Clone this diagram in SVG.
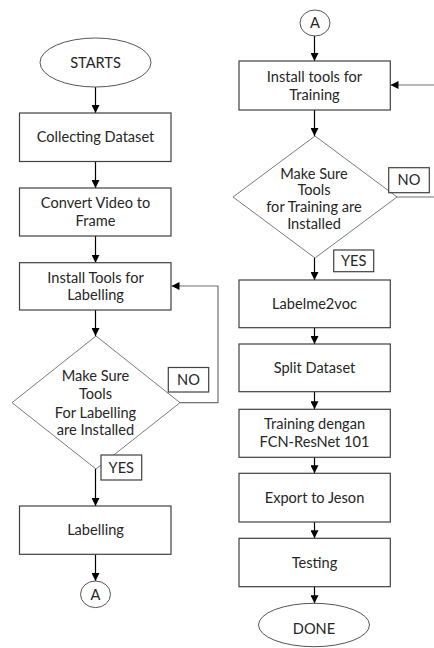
<svg xmlns="http://www.w3.org/2000/svg" width="434" height="648" viewBox="0 0 434 648">
<style>
.box{fill:#fff;stroke:#404040;stroke-width:1.2}
.dia{fill:#fff;stroke:#7a7a7a;stroke-width:1}
.lbl{fill:#fff;stroke:#404040;stroke-width:1.2}
.t{font-family:Lato,"Open Sans",sans-serif;font-size:14.6px;fill:#262626;text-anchor:middle}
.c{fill:none;stroke:#000;stroke-width:1.2}
.g{fill:none;stroke:#707070;stroke-width:1.2}
</style>
<defs>
<marker id="ah" viewBox="0 0 10 10" refX="10" refY="5" markerWidth="8" markerHeight="8" markerUnits="userSpaceOnUse" orient="auto">
<path d="M0,0 L10,5 L0,10 z" fill="#000"/>
</marker>
</defs>
<g id="connectors">
<line class="c" x1="95.5" y1="87" x2="95.5" y2="113" marker-end="url(#ah)"/>
<line class="c" x1="95.5" y1="161.5" x2="95.5" y2="188" marker-end="url(#ah)"/>
<line class="c" x1="95.5" y1="236" x2="95.5" y2="262.7" marker-end="url(#ah)"/>
<line class="c" x1="95.5" y1="310" x2="95.5" y2="336" marker-end="url(#ah)"/>
<polyline class="g" points="180,402.7 218,402.7 218,286 171.5,286" marker-end="url(#ah)"/>
<line class="c" x1="95.5" y1="469" x2="95.5" y2="506" marker-end="url(#ah)"/>
<line class="c" x1="95.5" y1="554.3" x2="95.5" y2="581" marker-end="url(#ah)"/>
<line class="c" x1="314.5" y1="36" x2="314.5" y2="61" marker-end="url(#ah)"/>
<line class="g" x1="434" y1="85" x2="390.5" y2="85" marker-end="url(#ah)"/>
<line class="c" x1="314.5" y1="110" x2="314.5" y2="136" marker-end="url(#ah)"/>
<line class="g" x1="397" y1="197" x2="434" y2="197"/>
<line class="c" x1="314.5" y1="258" x2="314.5" y2="280" marker-end="url(#ah)"/>
<line class="c" x1="314.5" y1="327.7" x2="314.5" y2="344" marker-end="url(#ah)"/>
<line class="c" x1="314.5" y1="391.7" x2="314.5" y2="409.3" marker-end="url(#ah)"/>
<line class="c" x1="314.5" y1="457.3" x2="314.5" y2="473.3" marker-end="url(#ah)"/>
<line class="c" x1="314.5" y1="522" x2="314.5" y2="538.3" marker-end="url(#ah)"/>
<line class="c" x1="314.5" y1="586.7" x2="314.5" y2="603.3" marker-end="url(#ah)"/>
</g>
<g id="starts"><ellipse cx="95.5" cy="62.5" rx="55.5" ry="24.5" fill="#fff" stroke="#555" stroke-width="1"/><text class="t" x="95.5" y="67.7">STARTS</text></g>
<g id="collecting"><rect class="box" x="19.5" y="113" width="151.5" height="48.5"/><text class="t" x="95.5" y="142.2">Collecting Dataset</text></g>
<g id="convert"><rect class="box" x="19.5" y="188" width="151.5" height="48"/><text class="t" x="95.5" y="207.8">Convert Video to</text><text class="t" x="95.5" y="225.8">Frame</text></g>
<g id="install-labelling"><rect class="box" x="19.5" y="262.7" width="151.5" height="47.3"/><text class="t" x="95.5" y="282.5">Install Tools for</text><text class="t" x="95.5" y="300.2">Labelling</text></g>
<g id="check-labelling"><polygon class="dia" points="96,336 180,402.7 96,469 12,402.7"/><text class="t" x="95.5" y="381.2">Make Sure</text><text class="t" x="95.5" y="399.2">Tools</text><text class="t" x="95.5" y="417.5">For Labelling</text><text class="t" x="95.5" y="435.2">are Installed</text></g>
<g id="no-left"><rect class="lbl" x="168.3" y="367.5" width="40.4" height="24.5"/><text class="t" x="188.5" y="385">NO</text></g>
<g id="yes-left"><rect class="lbl" x="101" y="455" width="40.7" height="25"/><text class="t" x="121.3" y="472.7">YES</text></g>
<g id="labelling"><rect class="box" x="19.5" y="506" width="151.5" height="48.3"/><text class="t" x="95.5" y="535.2">Labelling</text></g>
<g id="connector-a-left"><ellipse cx="95.5" cy="594.3" rx="15" ry="13.3" fill="#fff" stroke="#555" stroke-width="1"/><text class="t" x="95.5" y="599.5">A</text></g>
<g id="connector-a-right"><ellipse cx="315" cy="23" rx="15" ry="13" fill="#fff" stroke="#555" stroke-width="1"/><text class="t" x="315" y="28.2">A</text></g>
<g id="install-training"><rect class="box" x="239" y="61" width="151.3" height="49"/><text class="t" x="314.5" y="81.9">Install tools for</text><text class="t" x="314.5" y="99.5">Training</text></g>
<g id="check-training"><polygon class="dia" points="315,136 397,197 315,258 233,197"/><text class="t" x="314" y="178.5">Make Sure</text><text class="t" x="314" y="195.2">Tools</text><text class="t" x="314" y="211.9">for Training are</text><text class="t" x="314" y="228.5">Installed</text></g>
<g id="no-right"><rect class="lbl" x="388.7" y="167.7" width="40.6" height="25"/><text class="t" x="409" y="185.4">NO</text></g>
<g id="yes-right"><rect class="lbl" x="333.7" y="250" width="40" height="21.7"/><text class="t" x="353.7" y="266">YES</text></g>
<g id="labelme2voc"><rect class="box" x="239" y="280" width="151.3" height="47.7"/><text class="t" x="314.5" y="308.7">Labelme2voc</text></g>
<g id="split"><rect class="box" x="239" y="344" width="151.3" height="47.7"/><text class="t" x="314.5" y="372.9">Split Dataset</text></g>
<g id="training"><rect class="box" x="239" y="409.3" width="151.3" height="48"/><text class="t" x="314.5" y="428.9">Training dengan</text><text class="t" x="314.5" y="446.5">FCN-ResNet 101</text></g>
<g id="export"><rect class="box" x="239" y="473.3" width="151.3" height="48.7"/><text class="t" x="314.5" y="503.2">Export to Jeson</text></g>
<g id="testing"><rect class="box" x="239" y="538.3" width="151.3" height="48.4"/><text class="t" x="314.5" y="567.7">Testing</text></g>
<g id="done"><ellipse cx="314" cy="625" rx="55.5" ry="21.7" fill="#fff" stroke="#555" stroke-width="1"/><text class="t" x="314" y="634.2">DONE</text></g>
</svg>
